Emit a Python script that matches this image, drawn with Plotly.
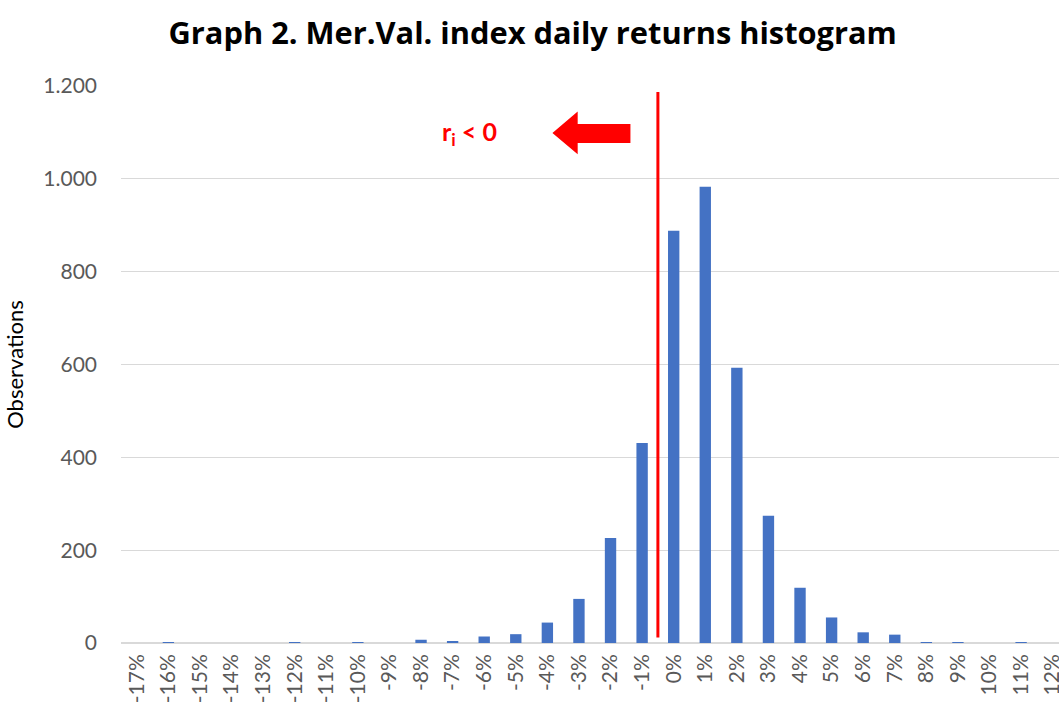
import plotly.graph_objects as go

categories = [f"{v}%" for v in range(-17, 13)]
observations = [0, 1, 0, 0, 0, 1, 0, 1, 0, 7, 4, 14, 19, 44, 95, 226, 431,
                 888, 983, 593, 274, 119, 55, 23, 18, 1, 1, 0, 1, 0]
y_ticks = [0, 200, 400, 600, 800, 1000, 1200]
y_tick_text = ["0", "200", "400", "600", "800", "1.000", "1.200"]

GRAY = "#595959"
FONT = "Lato"

fig = go.Figure()
fig.add_trace(go.Bar(x=categories, y=observations, marker_color="#4472C4",
                     marker_line_width=0, showlegend=False))

fig.update_layout(
    width=1059, height=705,
    margin=dict(l=121, r=0, t=86, b=62, autoexpand=False),
    paper_bgcolor="white", plot_bgcolor="white",
    bargap=0.64,
    font=dict(family=FONT, color=GRAY, size=21),
    title=dict(text="<b>Graph 2. Mer.Val. index daily returns histogram</b>",
               x=0.503, xanchor="center", y=0.953, yanchor="middle",
               font=dict(family="Open Sans", size=30.8, color="black")),
)
fig.update_xaxes(type="category", range=[-0.5, 29.2], tickangle=-90,
                 showgrid=False, showline=False, ticks="", automargin=False,
                 tickfont=dict(size=21, color=GRAY), ticklabelstandoff=6)
fig.update_yaxes(range=[0, 1200], tickvals=y_ticks, ticktext=y_tick_text,
                 showgrid=True, gridcolor="#D9D9D9", gridwidth=1,
                 zeroline=True, zerolinecolor="#D9D9D9", zerolinewidth=2,
                 showline=False, ticks="", ticklabelstandoff=23, automargin=False,
                 tickfont=dict(size=21, color=GRAY),
                 title=dict(text="Observations", standoff=13,
                            font=dict(size=22, color="black")))

# red threshold line between -1% and 0%
fig.add_shape(type="line", xref="x", yref="y", x0=16.5, x1=16.5, y0=12, y1=1187,
              line=dict(color="#FF0000", width=3))
# block arrow pointing left
fig.add_shape(type="path", xref="x", yref="y",
              path="M 13.16 1099 L 13.96 1145 L 13.96 1118 L 15.63 1118 "
                   "L 15.63 1077 L 13.96 1077 L 13.96 1053 Z",
              fillcolor="#FF0000", line=dict(width=0))
fig.add_annotation(x=10.54, y=1099, xref="x", yref="y", showarrow=False,
                   text="<b>r<sub>i</sub> &lt; 0</b>",
                   font=dict(family=FONT, size=25, color="#FF0000"))

fig.write_html("out.html", config={"displayModeBar": False},
               post_script="document.body.style.margin='0';document.body.style.padding='0';")
